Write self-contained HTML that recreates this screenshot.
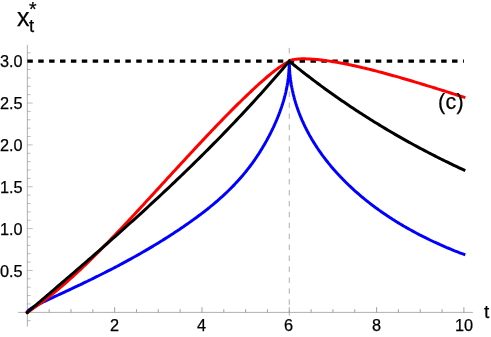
<!DOCTYPE html>
<html><head><meta charset="utf-8"><title>plot</title>
<style>
html,body{margin:0;padding:0;background:#fff;}
body{width:491px;height:337px;position:relative;overflow:hidden;font-family:"Liberation Sans",sans-serif;color:#000;}
.l{position:absolute;white-space:nowrap;line-height:1;will-change:transform;-webkit-text-stroke:0.25px #000;}
</style></head><body>
<svg width="491" height="337" viewBox="0 0 491 337" style="position:absolute;left:0;top:0">
<g stroke="#7a7a7a" stroke-width="0.7" fill="none">
<line x1="18.1" y1="312.40" x2="472.9" y2="312.40" stroke-width="0.6"/>
<line x1="27.35" y1="326.6" x2="27.35" y2="44.9" stroke-width="0.6"/>
<line x1="49.18" y1="312.3" x2="49.18" y2="309.20"/>
<line x1="71.00" y1="312.3" x2="71.00" y2="309.20"/>
<line x1="92.83" y1="312.3" x2="92.83" y2="309.20"/>
<line x1="114.66" y1="312.3" x2="114.66" y2="307.20"/>
<line x1="136.49" y1="312.3" x2="136.49" y2="309.20"/>
<line x1="158.31" y1="312.3" x2="158.31" y2="309.20"/>
<line x1="180.14" y1="312.3" x2="180.14" y2="309.20"/>
<line x1="201.97" y1="312.3" x2="201.97" y2="307.20"/>
<line x1="223.80" y1="312.3" x2="223.80" y2="309.20"/>
<line x1="245.62" y1="312.3" x2="245.62" y2="309.20"/>
<line x1="267.45" y1="312.3" x2="267.45" y2="309.20"/>
<line x1="289.28" y1="312.3" x2="289.28" y2="307.20"/>
<line x1="311.11" y1="312.3" x2="311.11" y2="309.20"/>
<line x1="332.94" y1="312.3" x2="332.94" y2="309.20"/>
<line x1="354.76" y1="312.3" x2="354.76" y2="309.20"/>
<line x1="376.59" y1="312.3" x2="376.59" y2="307.20"/>
<line x1="398.42" y1="312.3" x2="398.42" y2="309.20"/>
<line x1="420.25" y1="312.3" x2="420.25" y2="309.20"/>
<line x1="442.07" y1="312.3" x2="442.07" y2="309.20"/>
<line x1="463.90" y1="312.3" x2="463.90" y2="307.20"/>
<line x1="27.35" y1="320.67" x2="30.65" y2="320.67" stroke-width="0.5"/>
<line x1="27.35" y1="303.93" x2="30.65" y2="303.93" stroke-width="0.5"/>
<line x1="27.35" y1="295.56" x2="30.65" y2="295.56" stroke-width="0.5"/>
<line x1="27.35" y1="287.19" x2="30.65" y2="287.19" stroke-width="0.5"/>
<line x1="27.35" y1="278.82" x2="30.65" y2="278.82" stroke-width="0.5"/>
<line x1="27.35" y1="270.45" x2="32.65" y2="270.45" stroke-width="0.5"/>
<line x1="27.35" y1="262.08" x2="30.65" y2="262.08" stroke-width="0.5"/>
<line x1="27.35" y1="253.71" x2="30.65" y2="253.71" stroke-width="0.5"/>
<line x1="27.35" y1="245.34" x2="30.65" y2="245.34" stroke-width="0.5"/>
<line x1="27.35" y1="236.97" x2="30.65" y2="236.97" stroke-width="0.5"/>
<line x1="27.35" y1="228.60" x2="32.65" y2="228.60" stroke-width="0.5"/>
<line x1="27.35" y1="220.23" x2="30.65" y2="220.23" stroke-width="0.5"/>
<line x1="27.35" y1="211.86" x2="30.65" y2="211.86" stroke-width="0.5"/>
<line x1="27.35" y1="203.49" x2="30.65" y2="203.49" stroke-width="0.5"/>
<line x1="27.35" y1="195.12" x2="30.65" y2="195.12" stroke-width="0.5"/>
<line x1="27.35" y1="186.75" x2="32.65" y2="186.75" stroke-width="0.5"/>
<line x1="27.35" y1="178.38" x2="30.65" y2="178.38" stroke-width="0.5"/>
<line x1="27.35" y1="170.01" x2="30.65" y2="170.01" stroke-width="0.5"/>
<line x1="27.35" y1="161.64" x2="30.65" y2="161.64" stroke-width="0.5"/>
<line x1="27.35" y1="153.27" x2="30.65" y2="153.27" stroke-width="0.5"/>
<line x1="27.35" y1="144.90" x2="32.65" y2="144.90" stroke-width="0.5"/>
<line x1="27.35" y1="136.53" x2="30.65" y2="136.53" stroke-width="0.5"/>
<line x1="27.35" y1="128.16" x2="30.65" y2="128.16" stroke-width="0.5"/>
<line x1="27.35" y1="119.79" x2="30.65" y2="119.79" stroke-width="0.5"/>
<line x1="27.35" y1="111.42" x2="30.65" y2="111.42" stroke-width="0.5"/>
<line x1="27.35" y1="103.05" x2="32.65" y2="103.05" stroke-width="0.5"/>
<line x1="27.35" y1="94.68" x2="30.65" y2="94.68" stroke-width="0.5"/>
<line x1="27.35" y1="86.31" x2="30.65" y2="86.31" stroke-width="0.5"/>
<line x1="27.35" y1="77.94" x2="30.65" y2="77.94" stroke-width="0.5"/>
<line x1="27.35" y1="69.57" x2="30.65" y2="69.57" stroke-width="0.5"/>
<line x1="27.35" y1="61.20" x2="32.65" y2="61.20" stroke-width="0.5"/>
<line x1="27.35" y1="52.83" x2="30.65" y2="52.83" stroke-width="0.5"/>
</g>
<line x1="289.28" y1="47.9" x2="289.28" y2="316.1" stroke="#999" stroke-width="0.8" stroke-dasharray="5.45 5.48"/>
<line x1="27.35" y1="61.20" x2="463.90" y2="61.20" stroke="#000" stroke-width="3.2" stroke-dasharray="5.45 5.44"/>
<g fill="none" stroke-width="3" stroke-linecap="square" stroke-linejoin="miter" stroke-miterlimit="10">
<path stroke="#0000ff" stroke-linejoin="bevel" d="M27.35,312.30 L27.36,312.12 L27.40,311.94 L27.47,311.74 L27.56,311.55 L27.68,311.34 L27.83,311.13 L28.00,310.91 L28.21,310.69 L28.43,310.46 L28.69,310.22 L28.97,309.98 L29.27,309.73 L29.61,309.47 L29.97,309.21 L30.36,308.93 L30.77,308.65 L31.21,308.37 L31.68,308.07 L32.17,307.77 L32.69,307.46 L33.24,307.14 L33.82,306.81 L34.42,306.47 L35.05,306.13 L35.70,305.78 L36.38,305.42 L37.09,305.05 L37.83,304.67 L38.59,304.28 L39.38,303.88 L40.19,303.48 L41.03,303.06 L41.90,302.64 L42.80,302.20 L43.72,301.75 L44.67,301.30 L45.64,300.83 L46.65,300.36 L47.67,299.87 L48.73,299.37 L49.81,298.87 L50.92,298.35 L52.06,297.82 L53.22,297.28 L54.41,296.72 L55.62,296.16 L56.87,295.58 L58.14,294.99 L59.43,294.39 L60.76,293.78 L62.11,293.16 L63.48,292.52 L64.89,291.87 L66.31,291.20 L67.77,290.52 L69.25,289.83 L70.76,289.13 L72.30,288.41 L73.86,287.67 L75.45,286.92 L77.07,286.16 L78.72,285.38 L80.39,284.59 L82.08,283.78 L83.81,282.95 L85.56,282.11 L87.33,281.26 L89.14,280.38 L90.97,279.49 L92.83,278.58 L94.71,277.66 L96.62,276.71 L98.56,275.75 L100.52,274.77 L102.51,273.77 L104.53,272.75 L106.58,271.71 L108.65,270.65 L110.74,269.58 L112.87,268.48 L115.02,267.35 L117.20,266.21 L119.40,265.05 L121.64,263.86 L123.89,262.65 L126.18,261.41 L128.49,260.15 L130.83,258.87 L133.19,257.56 L135.59,256.22 L138.00,254.86 L140.45,253.47 L142.92,252.05 L145.42,250.61 L147.95,249.13 L150.50,247.62 L153.08,246.09 L155.68,244.52 L158.31,242.91 L160.51,241.56 L162.68,240.22 L164.84,238.87 L166.97,237.52 L169.09,236.16 L171.19,234.81 L173.27,233.46 L175.33,232.11 L177.38,230.75 L179.40,229.40 L181.41,228.04 L183.40,226.69 L185.37,225.33 L187.32,223.97 L189.25,222.61 L191.16,221.26 L193.06,219.90 L194.94,218.54 L196.80,217.18 L198.64,215.82 L200.46,214.45 L202.26,213.08 L204.05,211.71 L205.81,210.33 L207.56,208.96 L209.29,207.57 L211.00,206.18 L212.69,204.79 L214.37,203.39 L216.02,201.99 L217.66,200.58 L219.28,199.16 L220.88,197.73 L222.46,196.30 L224.02,194.87 L225.57,193.42 L227.09,191.97 L228.60,190.51 L230.09,189.04 L231.56,187.57 L233.01,186.09 L234.45,184.59 L235.86,183.09 L237.26,181.58 L238.64,180.07 L240.00,178.54 L241.34,177.00 L242.66,175.46 L243.96,173.91 L245.25,172.34 L246.52,170.77 L247.76,169.19 L248.99,167.60 L250.21,166.00 L251.40,164.39 L252.57,162.77 L253.73,161.15 L254.87,159.52 L255.99,157.89 L257.09,156.25 L258.17,154.61 L259.23,152.97 L260.28,151.32 L261.30,149.66 L262.31,148.01 L263.30,146.35 L264.27,144.70 L265.23,143.04 L266.16,141.38 L267.07,139.72 L267.97,138.07 L268.85,136.41 L269.71,134.76 L270.55,133.10 L271.38,131.45 L272.18,129.80 L272.97,128.16 L273.73,126.52 L274.48,124.88 L275.21,123.24 L275.93,121.61 L276.62,119.99 L277.29,118.36 L277.95,116.75 L278.59,115.13 L279.21,113.53 L279.81,111.92 L280.39,110.32 L280.96,108.73 L281.50,107.14 L282.03,105.56 L282.54,103.98 L283.03,102.41 L283.50,100.84 L283.95,99.28 L284.39,97.72 L284.80,96.17 L285.20,94.62 L285.58,93.07 L285.94,91.52 L286.28,89.97 L286.61,88.42 L286.91,86.87 L287.20,85.31 L287.47,83.75 L287.72,82.19 L287.95,80.62 L288.16,79.05 L288.36,77.47 L288.53,75.88 L288.69,74.28 L288.83,72.68 L288.95,71.07 L289.05,69.45 L289.13,67.82 L289.20,66.18 L289.24,64.53 L289.27,62.87 L289.28,61.20 L289.28,62.29 L289.30,63.38 L289.32,64.47 L289.35,65.56 L289.39,66.65 L289.44,67.74 L289.50,68.83 L289.56,69.92 L289.64,71.02 L289.72,72.11 L289.81,73.20 L289.91,74.30 L290.03,75.39 L290.14,76.49 L290.27,77.59 L290.41,78.68 L290.55,79.78 L290.71,80.88 L290.87,81.97 L291.04,83.07 L291.22,84.17 L291.41,85.27 L291.61,86.36 L291.82,87.46 L292.04,88.56 L292.26,89.66 L292.49,90.76 L292.74,91.85 L292.99,92.95 L293.25,94.05 L293.52,95.15 L293.80,96.25 L294.08,97.34 L294.38,98.44 L294.68,99.54 L294.99,100.64 L295.32,101.73 L295.65,102.83 L295.99,103.93 L296.34,105.02 L296.69,106.12 L297.06,107.21 L297.43,108.31 L297.82,109.40 L298.21,110.49 L298.61,111.59 L299.02,112.68 L299.44,113.77 L299.87,114.86 L300.30,115.95 L300.75,117.04 L301.20,118.13 L301.67,119.22 L302.14,120.31 L302.62,121.40 L303.11,122.48 L303.61,123.57 L304.11,124.65 L304.63,125.73 L305.15,126.82 L305.69,127.90 L306.23,128.98 L306.78,130.06 L307.34,131.14 L307.91,132.21 L308.49,133.29 L309.07,134.36 L309.67,135.44 L310.27,136.51 L310.89,137.58 L311.51,138.65 L312.14,139.72 L312.78,140.79 L313.43,141.85 L314.08,142.92 L314.75,143.98 L315.42,145.04 L316.11,146.10 L316.80,147.16 L317.50,148.22 L318.21,149.27 L318.93,150.33 L319.66,151.38 L320.39,152.43 L321.14,153.48 L321.89,154.52 L322.66,155.57 L323.43,156.61 L324.21,157.65 L325.00,158.69 L325.79,159.73 L326.60,160.77 L327.42,161.80 L328.24,162.83 L329.08,163.86 L329.92,164.89 L330.77,165.92 L331.63,166.94 L332.50,167.96 L333.37,168.98 L334.26,170.00 L335.16,171.02 L336.06,172.03 L336.97,173.04 L337.89,174.05 L338.82,175.06 L339.76,176.06 L340.71,177.06 L341.67,178.06 L342.63,179.06 L343.61,180.05 L344.59,181.04 L345.58,182.03 L346.59,183.02 L347.60,184.00 L348.61,184.98 L349.64,185.96 L350.68,186.94 L351.72,187.91 L352.78,188.88 L353.84,189.85 L354.91,190.82 L355.99,191.78 L357.08,192.74 L358.18,193.69 L359.28,194.65 L360.40,195.60 L361.52,196.55 L362.66,197.49 L363.80,198.43 L364.95,199.37 L366.11,200.31 L367.28,201.24 L368.46,202.17 L369.64,203.09 L370.84,204.02 L372.04,204.94 L373.25,205.85 L374.48,206.77 L375.71,207.68 L376.94,208.58 L378.19,209.48 L379.45,210.38 L380.72,211.28 L381.99,212.17 L383.27,213.06 L384.56,213.95 L385.87,214.83 L387.17,215.71 L388.49,216.58 L389.82,217.45 L391.16,218.32 L392.50,219.18 L393.86,220.04 L395.22,220.90 L396.59,221.75 L397.97,222.60 L399.36,223.45 L400.76,224.29 L402.16,225.12 L403.58,225.96 L405.00,226.78 L406.44,227.61 L407.88,228.43 L409.33,229.25 L410.79,230.06 L412.26,230.87 L413.73,231.67 L415.22,232.47 L416.71,233.27 L418.22,234.06 L419.73,234.85 L421.25,235.63 L422.78,236.41 L424.32,237.18 L425.87,237.95 L427.42,238.72 L428.99,239.48 L430.56,240.24 L432.15,240.99 L433.74,241.74 L435.34,242.48 L436.95,243.22 L438.57,243.95 L440.19,244.68 L441.83,245.40 L443.48,246.12 L445.13,246.84 L446.79,247.55 L448.46,248.25 L450.14,248.95 L451.83,249.65 L453.53,250.34 L455.24,251.03 L456.95,251.71 L458.67,252.38 L460.41,253.05 L462.15,253.72 L463.90,254.38"/>
<path stroke="#ff0000" d="M27.35,312.30 L29.11,311.15 L30.87,309.97 L32.62,308.78 L34.38,307.56 L36.14,306.32 L37.90,305.07 L39.66,303.79 L41.41,302.50 L43.17,301.19 L44.93,299.86 L46.69,298.51 L48.45,297.14 L50.20,295.76 L51.96,294.35 L53.72,292.93 L55.48,291.50 L57.23,290.05 L58.99,288.58 L60.75,287.09 L62.51,285.59 L64.27,284.08 L66.02,282.55 L67.78,281.00 L69.54,279.44 L71.30,277.87 L73.06,276.28 L74.81,274.68 L76.57,273.06 L78.33,271.43 L80.09,269.79 L81.85,268.14 L83.60,266.47 L85.36,264.80 L87.12,263.11 L88.88,261.41 L90.64,259.70 L92.39,257.97 L94.15,256.24 L95.91,254.50 L97.67,252.75 L99.42,250.98 L101.18,249.21 L102.94,247.43 L104.70,245.64 L106.46,243.85 L108.21,242.04 L109.97,240.23 L111.73,238.41 L113.49,236.58 L115.25,234.74 L117.00,232.90 L118.76,231.05 L120.52,229.20 L122.28,227.34 L124.04,225.47 L125.79,223.60 L127.55,221.73 L129.31,219.85 L131.07,217.96 L132.83,216.07 L134.58,214.18 L136.34,212.28 L138.10,210.38 L139.86,208.48 L141.61,206.58 L143.37,204.67 L145.13,202.76 L146.89,200.85 L148.65,198.93 L150.40,197.02 L152.16,195.11 L153.92,193.19 L155.68,191.27 L157.44,189.36 L159.19,187.44 L160.95,185.52 L162.71,183.60 L164.47,181.68 L166.23,179.77 L167.98,177.85 L169.74,175.93 L171.50,174.02 L173.26,172.10 L175.02,170.19 L176.77,168.27 L178.53,166.36 L180.29,164.45 L182.05,162.55 L183.80,160.64 L185.56,158.74 L187.32,156.83 L189.08,154.94 L190.84,153.04 L192.59,151.15 L194.35,149.26 L196.11,147.37 L197.87,145.49 L199.63,143.61 L201.38,141.73 L203.14,139.86 L204.90,137.99 L206.66,136.13 L208.42,134.27 L210.17,132.42 L211.93,130.57 L213.69,128.73 L215.45,126.89 L217.21,125.06 L218.96,123.24 L220.72,121.43 L222.48,119.62 L224.24,117.81 L225.99,116.02 L227.75,114.23 L229.51,112.45 L231.27,110.68 L233.03,108.92 L234.78,107.17 L236.54,105.42 L238.30,103.69 L240.06,101.96 L241.82,100.24 L243.57,98.54 L245.33,96.84 L247.09,95.15 L248.85,93.48 L250.61,91.81 L252.36,90.16 L254.12,88.52 L255.88,86.89 L257.64,85.27 L259.40,83.67 L261.15,82.10 L262.91,80.54 L264.67,79.01 L266.43,77.50 L268.18,76.02 L269.94,74.57 L271.70,73.15 L273.46,71.76 L275.22,70.42 L276.97,69.11 L278.73,67.84 L280.49,66.61 L282.25,65.43 L284.01,64.30 L285.76,63.21 L287.52,62.18 L289.28,61.20 L291.04,60.13 L292.81,59.68 L294.57,59.38 L296.34,59.17 L298.10,59.02 L299.86,58.92 L301.63,58.86 L303.39,58.84 L305.15,58.84 L306.92,58.88 L308.68,58.94 L310.45,59.03 L312.21,59.14 L313.97,59.27 L315.74,59.41 L317.50,59.58 L319.27,59.76 L321.03,59.95 L322.79,60.16 L324.56,60.39 L326.32,60.63 L328.08,60.88 L329.85,61.14 L331.61,61.41 L333.38,61.70 L335.14,61.99 L336.90,62.30 L338.67,62.61 L340.43,62.93 L342.20,63.27 L343.96,63.61 L345.72,63.96 L347.49,64.31 L349.25,64.68 L351.01,65.05 L352.78,65.43 L354.54,65.82 L356.31,66.21 L358.07,66.61 L359.83,67.02 L361.60,67.43 L363.36,67.84 L365.13,68.27 L366.89,68.70 L368.65,69.13 L370.42,69.57 L372.18,70.01 L373.94,70.46 L375.71,70.92 L377.47,71.37 L379.24,71.84 L381.00,72.30 L382.76,72.77 L384.53,73.25 L386.29,73.73 L388.05,74.21 L389.82,74.70 L391.58,75.19 L393.35,75.68 L395.11,76.17 L396.87,76.67 L398.64,77.18 L400.40,77.68 L402.17,78.19 L403.93,78.70 L405.69,79.22 L407.46,79.73 L409.22,80.25 L410.98,80.77 L412.75,81.30 L414.51,81.82 L416.28,82.35 L418.04,82.88 L419.80,83.41 L421.57,83.95 L423.33,84.49 L425.10,85.02 L426.86,85.56 L428.62,86.11 L430.39,86.65 L432.15,87.19 L433.91,87.74 L435.68,88.29 L437.44,88.84 L439.21,89.39 L440.97,89.94 L442.73,90.49 L444.50,91.05 L446.26,91.60 L448.03,92.16 L449.79,92.72 L451.55,93.28 L453.32,93.84 L455.08,94.40 L456.84,94.96 L458.61,95.52 L460.37,96.08 L462.14,96.65 L463.90,97.21"/>
<path stroke="#000000" d="M27.35,312.30 L29.55,310.43 L31.75,308.55 L33.95,306.67 L36.15,304.80 L38.36,302.92 L40.56,301.05 L42.76,299.17 L44.96,297.29 L47.16,295.41 L49.36,293.54 L51.56,291.66 L53.76,289.77 L55.96,287.89 L58.17,286.01 L60.37,284.12 L62.57,282.24 L64.77,280.35 L66.97,278.46 L69.17,276.57 L71.37,274.67 L73.57,272.78 L75.77,270.88 L77.98,268.98 L80.18,267.08 L82.38,265.18 L84.58,263.27 L86.78,261.36 L88.98,259.45 L91.18,257.54 L93.38,255.62 L95.58,253.70 L97.78,251.78 L99.99,249.85 L102.19,247.92 L104.39,245.99 L106.59,244.05 L108.79,242.12 L110.99,240.17 L113.19,238.23 L115.39,236.28 L117.59,234.32 L119.80,232.36 L122.00,230.40 L124.20,228.43 L126.40,226.46 L128.60,224.49 L130.80,222.51 L133.00,220.52 L135.20,218.53 L137.40,216.54 L139.61,214.54 L141.81,212.54 L144.01,210.53 L146.21,208.52 L148.41,206.50 L150.61,204.47 L152.81,202.44 L155.01,200.40 L157.21,198.36 L159.42,196.32 L161.62,194.26 L163.82,192.20 L166.02,190.14 L168.22,188.06 L170.42,185.99 L172.62,183.90 L174.82,181.81 L177.02,179.71 L179.23,177.61 L181.43,175.50 L183.63,173.38 L185.83,171.25 L188.03,169.12 L190.23,166.98 L192.43,164.83 L194.63,162.67 L196.83,160.51 L199.04,158.34 L201.24,156.16 L203.44,153.97 L205.64,151.78 L207.84,149.57 L210.04,147.36 L212.24,145.14 L214.44,142.91 L216.64,140.68 L218.85,138.43 L221.05,136.18 L223.25,133.91 L225.45,131.64 L227.65,129.36 L229.85,127.06 L232.05,124.76 L234.25,122.45 L236.45,120.13 L238.65,117.80 L240.86,115.46 L243.06,113.11 L245.26,110.75 L247.46,108.38 L249.66,106.00 L251.86,103.61 L254.06,101.20 L256.26,98.79 L258.46,96.36 L260.67,93.93 L262.87,91.48 L265.07,89.02 L267.27,86.55 L269.47,84.07 L271.67,81.58 L273.87,79.07 L276.07,76.56 L278.27,74.03 L280.48,71.49 L282.68,68.94 L284.88,66.37 L287.08,63.79 L289.28,61.20 L291.04,62.64 L292.81,64.06 L294.57,65.48 L296.34,66.90 L298.10,68.30 L299.86,69.70 L301.63,71.08 L303.39,72.46 L305.15,73.84 L306.92,75.20 L308.68,76.56 L310.45,77.91 L312.21,79.25 L313.97,80.58 L315.74,81.91 L317.50,83.22 L319.27,84.53 L321.03,85.84 L322.79,87.13 L324.56,88.42 L326.32,89.70 L328.08,90.98 L329.85,92.24 L331.61,93.50 L333.38,94.75 L335.14,96.00 L336.90,97.23 L338.67,98.46 L340.43,99.69 L342.20,100.90 L343.96,102.11 L345.72,103.32 L347.49,104.51 L349.25,105.70 L351.01,106.88 L352.78,108.06 L354.54,109.23 L356.31,110.39 L358.07,111.54 L359.83,112.69 L361.60,113.83 L363.36,114.97 L365.13,116.10 L366.89,117.22 L368.65,118.34 L370.42,119.45 L372.18,120.55 L373.94,121.65 L375.71,122.74 L377.47,123.82 L379.24,124.90 L381.00,125.97 L382.76,127.04 L384.53,128.10 L386.29,129.15 L388.05,130.20 L389.82,131.24 L391.58,132.28 L393.35,133.31 L395.11,134.33 L396.87,135.35 L398.64,136.36 L400.40,137.37 L402.17,138.37 L403.93,139.36 L405.69,140.35 L407.46,141.34 L409.22,142.32 L410.98,143.29 L412.75,144.25 L414.51,145.22 L416.28,146.17 L418.04,147.12 L419.80,148.07 L421.57,149.01 L423.33,149.94 L425.10,150.87 L426.86,151.79 L428.62,152.71 L430.39,153.62 L432.15,154.53 L433.91,155.43 L435.68,156.33 L437.44,157.22 L439.21,158.11 L440.97,158.99 L442.73,159.87 L444.50,160.74 L446.26,161.61 L448.03,162.47 L449.79,163.33 L451.55,164.18 L453.32,165.03 L455.08,165.87 L456.84,166.71 L458.61,167.54 L460.37,168.37 L462.14,169.19 L463.90,170.01"/>
</g>
</svg>
<div class="l" style="left:0.1px;top:53.4px;font-size:16.3px;">3.0</div>
<div class="l" style="left:0.1px;top:95.2px;font-size:16.3px;">2.5</div>
<div class="l" style="left:0.1px;top:137.1px;font-size:16.3px;">2.0</div>
<div class="l" style="left:0.1px;top:179.0px;font-size:16.3px;">1.5</div>
<div class="l" style="left:0.1px;top:220.9px;font-size:16.3px;">1.0</div>
<div class="l" style="left:0.1px;top:262.8px;font-size:16.3px;">0.5</div>
<div class="l" style="left:109.86px;top:317.1px;font-size:16.3px;">2</div>
<div class="l" style="left:197.17px;top:317.1px;font-size:16.3px;">4</div>
<div class="l" style="left:284.48px;top:317.1px;font-size:16.3px;">6</div>
<div class="l" style="left:371.79px;top:317.1px;font-size:16.3px;">8</div>
<div class="l" style="left:454.70px;top:317.1px;font-size:16.3px;">10</div>
<div class="l" style="left:483.6px;top:301.7px;font-size:19px;">t</div>
<div class="l" style="left:16.7px;top:5.0px;font-size:25px;">x</div>
<div class="l" style="left:29.2px;top:17.2px;font-size:18.5px;">t</div>
<div class="l" style="left:29.4px;top:0.2px;font-size:19.5px;">*</div>
<div class="l" style="left:437.9px;top:92.2px;font-size:21.5px;letter-spacing:0.25px;">(c)</div>
</body></html>
